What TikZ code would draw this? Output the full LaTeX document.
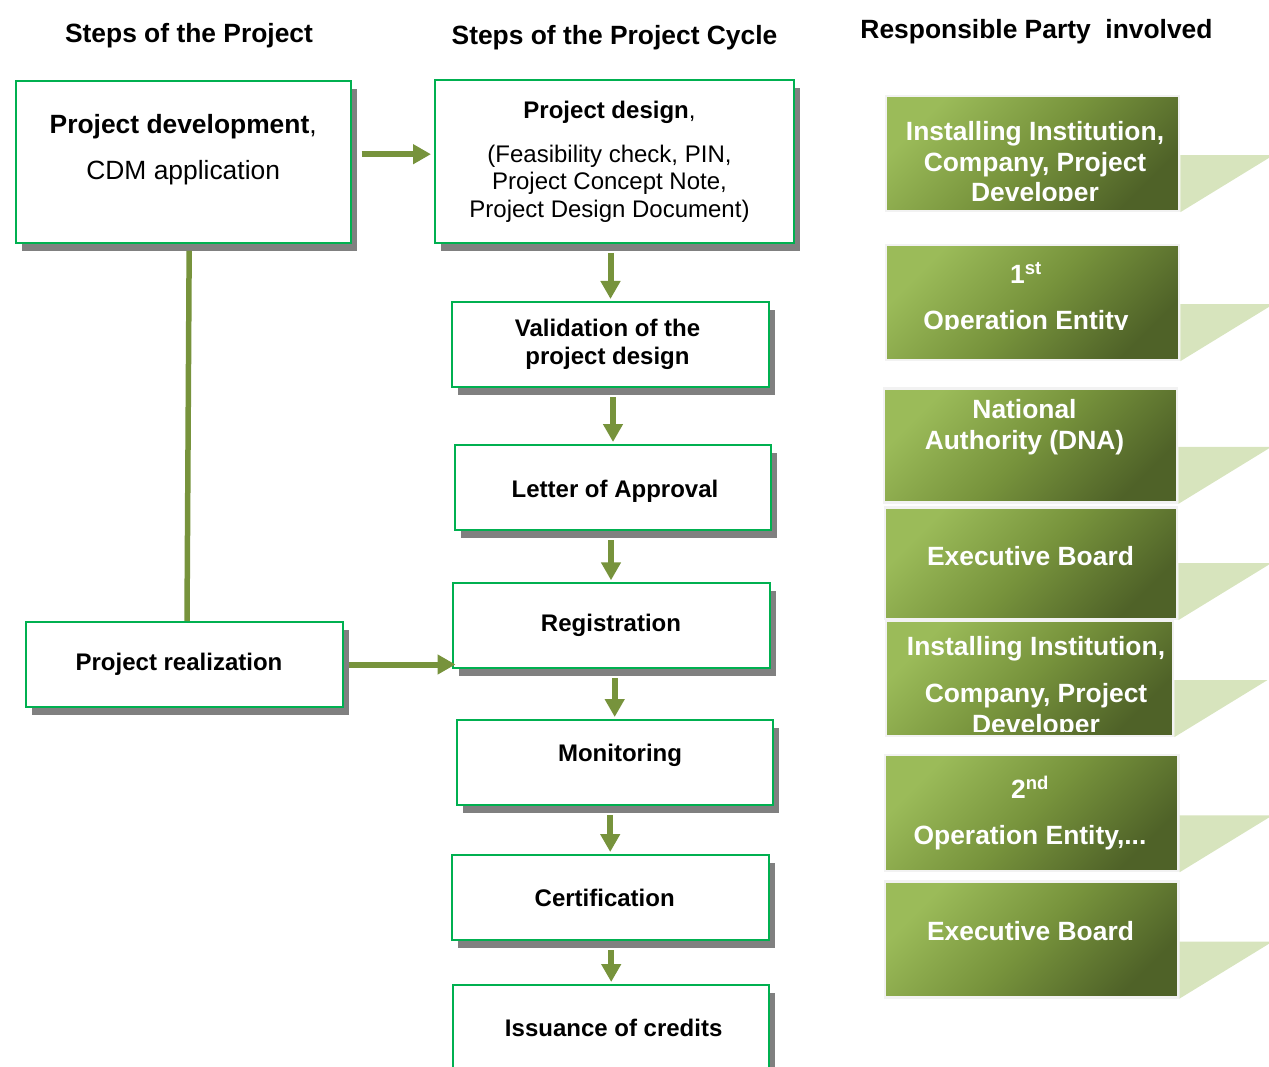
\documentclass[tikz,border=0pt]{standalone}
\usepackage{fontspec}
\setmainfont{Liberation Sans}
\usetikzlibrary{arrows.meta,shadows}
\definecolor{boxgreen}{HTML}{00B050}
\definecolor{arrowolive}{HTML}{77933C}
\definecolor{shadowgray}{HTML}{808080}
\definecolor{calloutgreen}{HTML}{D7E4BD}
\definecolor{partylight}{HTML}{9BBB59}
\definecolor{partydark}{HTML}{4F6228}
\tikzset{
  heading/.style={font=\fontsize{26.4}{30}\selectfont\bfseries, inner sep=0pt},
  stepbox/.style={draw=boxgreen, line width=2pt, fill=white, align=center, inner sep=0pt,
    font=\fontsize{24}{27.5}\selectfont\bfseries,
    drop shadow={shadow xshift=6pt, shadow yshift=-8pt, fill=shadowgray, opacity=1}},
  partybox/.style={draw=black!5, line width=2.5pt, top color=partylight, bottom color=partydark,
    middle color=arrowolive, shading angle=45, inner sep=0pt},
  partytext/.style={text=white, align=center, inner sep=0pt, font=\fontsize{26.4}{30.5}\selectfont\bfseries},
  callout/.style={fill=calloutgreen},
  flow/.style={draw=arrowolive, line width=6pt, -{Triangle[width=19pt,length=18pt]}},
  link/.style={draw=arrowolive, line width=5.5pt}
}
\begin{document}
\begin{tikzpicture}[x=1pt,y=-1pt]
        \useasboundingbox (0,0) rectangle (1269,1067);
        \clip (0,0) rectangle (1269,1067);
        % Draw column headings
        \node[heading] (headproject) at (189,35.9) {Steps of the Project};
        \node[heading] (headcycle) at (614.5,37.9) {Steps of the Project Cycle};
        \node[heading] (headparty) at (1036.5,31.9) {Responsible Party\ \ involved};
        % Draw steps of the project
        \node[stepbox, minimum width=335pt, minimum height=162pt, font=\fontsize{26.4}{30.5}\selectfont]
          (develop) at (183.2,161.7) {\textbf{Project development},\\[15.5pt]CDM application\\\mbox{}};
        \node[stepbox, minimum width=317pt, minimum height=85pt] (realize) at (184.5,664.5) {\hspace*{-11pt}Project realization};
        % Draw steps of the project cycle
        \node[stepbox, minimum width=359pt, minimum height=163pt, font=\fontsize{24}{27.5}\selectfont]
          (design) at (614.5,161.5) {\hspace*{-10pt}\textbf{Project design},\\[16.5pt]\hspace*{-10pt}(Feasibility check, PIN,\\
          \hspace*{-10pt}Project Concept Note,\\\hspace*{-10pt}Project Design Document)};
        \node[stepbox, minimum width=317pt, minimum height=85pt] (validate) at (610.5,344.5) {\hspace*{-6pt}Validation of the\\\hspace*{-6pt}project design};
        \node[stepbox, minimum width=316pt, minimum height=85pt] (approve) at (613,487.5) {\mbox{}\\[-2.3pt]\hspace*{4pt}Letter of Approval};
        \node[stepbox, minimum width=317pt, minimum height=85pt] (register) at (611,625.8) {Registration};
        \node[stepbox, minimum width=316pt, minimum height=85pt] (monitor) at (614.7,762.5) {\hspace*{10.6pt}Monitoring\\[-8.5pt]\mbox{}};
        \node[stepbox, minimum width=317pt, minimum height=85pt] (certify) at (610.2,897.5) {\hspace*{-11pt}Certification};
        \node[stepbox, minimum width=316pt, minimum height=85pt] (issue) at (611.2,1027.5) {\hspace*{5pt}Issuance of credits};
        % Draw arrows
        \draw[flow, shorten <=10pt, shorten >=3pt] ([yshift=7.5pt]develop.east) -- ([yshift=7.5pt]develop.east -| design.west);
        \draw[link, shorten <=7pt] ([xshift=6pt]develop.south) -- ([xshift=2.5pt]realize.north);
        \draw[flow, shorten <=5pt, shorten >=-4pt] (realize.east) -- (realize.east -| register.west);
        \foreach \a/\b in {design/validate, validate/approve, approve/register, register/monitor, monitor/certify, certify/issue}
          \draw[flow, shorten <=9pt, shorten >=2pt] (\b.north |- \a.south) -- (\b.north);
        % Draw responsible parties
        \node[partybox, minimum width=293pt, minimum height=115pt] (party1) at (1032.5,153.5) {};
        \node[partybox, minimum width=293pt, minimum height=115pt] (party2) at (1032.5,302.5) {};
        \node[partybox, minimum width=293pt, minimum height=114.4pt] (party3) at (1030.5,445.5) {};
        \node[partybox, minimum width=292pt, minimum height=111.3pt] (party4) at (1031,563.3) {};
        \node[partybox, minimum width=287pt, minimum height=115.3pt] (party5) at (1029.5,678.3) {};
        \node[partybox, minimum width=293.3pt, minimum height=116pt] (party6) at (1031.7,813) {};
        \node[partybox, minimum width=293.3pt, minimum height=115.6pt] (party7) at (1031.7,939.5) {};
        \foreach \i in {1,...,7}
          \fill[callout] (party\i.south east) -- ++(0,-57) -- ++(93,0) -- cycle;
        \begin{scope}
          \clip (886,96) rectangle (1179,201);
          \node[partytext] (party1text) at (1035,164.4) {Installing Institution,\\Company, Project\\Developer};
        \end{scope}
        \begin{scope}
          \clip (886,245) rectangle (1179,330);
          \node[partytext] (party2text) at (1026,298.5) {1\textsuperscript{st}\\[16pt]Operation Entity};
        \end{scope}
        \node[partytext] (party3text) at (1024.5,427.4) {National\\Authority (DNA)};
        \node[partytext] (party4text) at (1030.5,556) {Executive Board};
        \begin{scope}
          \clip (886,621) rectangle (1173,731.7);
          \node[partytext] (party5text) at (1036,687.9) {Installing Institution,\\[16.5pt]Company, Project\\Developer};
        \end{scope}
        \node[partytext] (party6text) at (1030,813.4) {2\textsuperscript{nd}\\[15.5pt]Operation Entity,...};
        \node[partytext] (party7text) at (1030.5,931) {Executive Board};
      \end{tikzpicture}
\end{document}
